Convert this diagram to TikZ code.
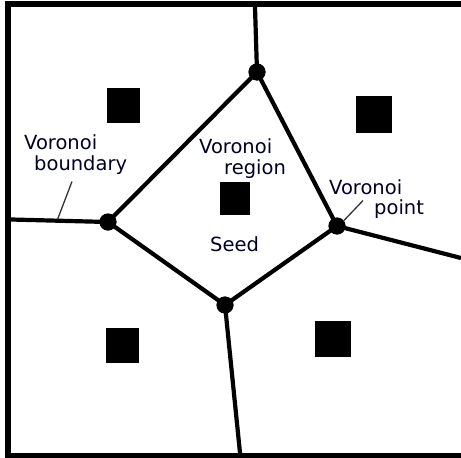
\documentclass[tikz,border=0pt]{standalone}
\usepackage{fontspec}
\setmainfont{DejaVu Sans}
\begin{document}
\begin{tikzpicture}[x=1pt,y=-1pt,
  edge/.style={line width=4.2pt,line cap=round},
  vertex/.style={circle,fill=black,inner sep=0pt,minimum size=17pt},
  seed/.style={fill=black},
  label/.style={font=\fontsize{19.5}{22}\selectfont,text=black!85!blue,inner sep=0pt,anchor=north west},
  pointer/.style={line width=1.3pt,black!80}]
\useasboundingbox (0,0) rectangle (461,458);
% outer frame (open on the right)
\draw[line width=6pt] (461,4) -- (8,4) -- (8,455.5) -- (461,455.5);
% vertices of the central cell
\node[vertex] (vt) at (257,72) {};
\node[vertex] (vl) at (108,222) {};
\node[vertex] (vr) at (337,226) {};
\node[vertex] (vb) at (225,305) {};
% free ends on the frame
\coordinate (et) at (255,7);
\coordinate (el) at (11,219.5);
\coordinate (er) at (461,258);
\coordinate (eb) at (240,453);
% boundaries
\draw[edge] (vt.center) -- (vr.center) -- (vb.center) -- (vl.center) -- cycle;
\draw[edge,line cap=butt] (vt.center) -- (et);
\draw[edge,line cap=butt] (vl.center) -- (el);
\draw[edge,line cap=butt] (vr.center) -- (er);
\draw[edge,line cap=butt] (vb.center) -- (eb);
\foreach \v in {vt,vl,vr,vb} \node[vertex] at (\v) {};
% seeds
\fill[seed] (107,88) rectangle (140,123);
\fill[seed] (356,96) rectangle (391.5,133);
\fill[seed] (219.5,181.5) rectangle (250,215);
\fill[seed] (106,328) rectangle (139,362.5);
\fill[seed] (315,321) rectangle (350.5,356.5);
% labels
\node[label] (lb1) at (24,134) {Voronoi};
\node[label] (lb2) at (34,155) {boundary};
\node[label] (lr1) at (199,138) {Voronoi};
\node[label] (lr2) at (224,159) {region};
\node[label] (lp1) at (329,179) {Voronoi};
\node[label] (lp2) at (374,199) {point};
\node[label] (ls) at (210,236) {Seed};
% label pointers
\coordinate (pb) at (72,181.5);
\coordinate (pbe) at (57.5,219.5);
\draw[pointer] (pb) -- (pbe);
\coordinate (pp) at (363,200.5);
\coordinate (ppe) at (343,221.5);
\draw[pointer] (pp) -- (ppe);
\end{tikzpicture}
\end{document}
